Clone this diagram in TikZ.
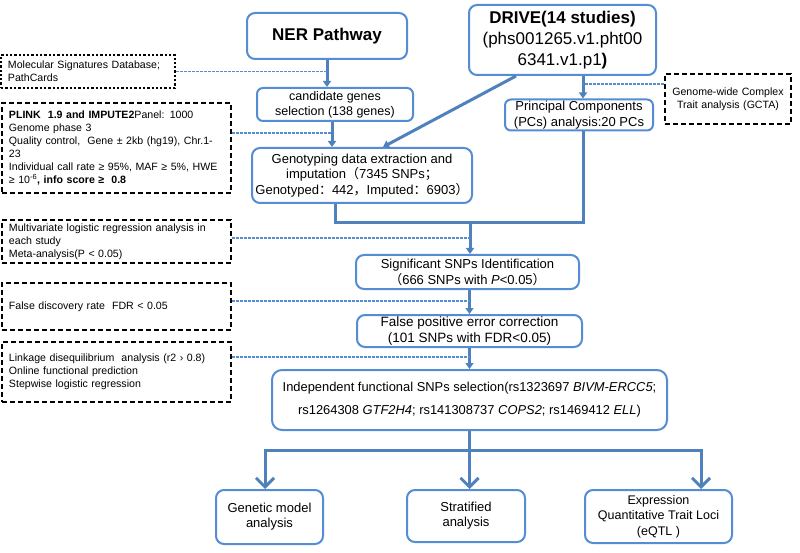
\documentclass[tikz,border=0pt]{standalone}
\usepackage{fontspec}
\setmainfont{Liberation Sans}
\newfontfamily\cjk{Noto Sans CJK SC}
\usetikzlibrary{arrows.meta,calc}
\definecolor{boxblue}{RGB}{84,141,212}
\definecolor{arrblue}{RGB}{79,129,189}
\definecolor{dotblue}{RGB}{84,141,212}
\begin{document}
\begin{tikzpicture}[x=1pt,y=-1pt,
  bbox/.style={draw=boxblue, line width=2pt, rounded corners=8pt, align=center, inner sep=0pt},
  lbox/.style={draw=black, line width=2.2pt, dash pattern=on 5pt off 3pt, align=left, inner xsep=7pt, inner ysep=0pt, font=\fontsize{10.6}{13}\selectfont},
  flow/.style={draw=arrblue, line width=3pt},
  arr/.style={flow, -{Triangle[length=6pt,width=8pt]}},
  arrb/.style={flow, -{Straight Barb[length=9pt,width=18pt]}},
  link/.style={draw=dotblue, line width=1.1pt, dash pattern=on 2.5pt off 1.5pt},
]
\useasboundingbox (0,0) rectangle (800,553);
\fill[white] (0,0) rectangle (800,553);

% main boxes
\node[bbox, minimum width=160pt, minimum height=46pt, font={\fontsize{17}{20}\selectfont\bfseries}] (ner) at (327,36) {NER Pathway};
\node[bbox, minimum width=187pt, minimum height=70pt, font={\fontsize{17}{21}\selectfont}] (drive) at (562.5,40) {\textbf{DRIVE(14 studies)}\\(phs001265.v1.pht00\\6341.v1.p1\textbf{)}};
\node[bbox, rounded corners=6pt, minimum width=156pt, minimum height=33pt, font={\fontsize{12.5}{15}\selectfont}] (cand) at (335,104.5) {candidate genes\\selection (138 genes)};
\node[bbox, minimum width=220pt, minimum height=55pt, font={\fontsize{13}{15.5}\selectfont}] (geno) at (362,175.5) {Genotyping data extraction and\\imputation{\cjk （}7345 SNPs{\cjk ；}\\Genotyped{\cjk ：}442{\cjk ，}Imputed{\cjk ：}6903{\cjk ）}};
\node[bbox, rounded corners=6pt, minimum width=148pt, minimum height=31pt, font={\fontsize{13}{16}\selectfont}] (pc) at (579,115) {Principal Components\\(PCs) analysis:20 PCs};
\node[bbox, minimum width=223pt, minimum height=34pt, font={\fontsize{13}{16}\selectfont}] (sig) at (467.5,272) {Significant SNPs Identification\\{\cjk （}666 SNPs with \textit{P}<0.05{\cjk ）}};
\node[bbox, minimum width=225pt, minimum height=32pt, font={\fontsize{13.5}{16}\selectfont}] (fpe) at (469.5,331) {False positive error correction\\(101 SNPs with FDR<0.05)};
\node[bbox, rounded corners=10pt, minimum width=395pt, minimum height=60pt, font={\fontsize{12.9}{23}\selectfont}] (indep) at (469.5,400) {Independent functional SNPs selection(rs1323697 \textit{BIVM-ERCC5};\\rs1264308 \textit{GTF2H4}; rs141308737 \textit{COPS2}; rs1469412 \textit{ELL})};
\node[bbox, minimum width=107pt, minimum height=54pt, font={\fontsize{13}{15}\selectfont}] (gen) at (269.5,517) {Genetic model\\analysis};
\node[bbox, minimum width=118pt, minimum height=52pt, font={\fontsize{13}{15}\selectfont}] (strat) at (466,516) {Stratified\\analysis};
\node[bbox, minimum width=147pt, minimum height=53pt, font={\fontsize{12.5}{15.5}\selectfont}] (eqtl) at (658.5,516.5) {Expression\\Quantitative Trait Loci\\(eQTL )};

% side boxes
\node[lbox, line width=2.3pt, dash pattern=on 2.3pt off 2pt, text width=160pt, minimum height=33pt] (msig) at (88,71.5) {Molecular Signatures Database;\\PathCards};
\node[lbox, text width=215pt, minimum height=90pt] (plink) at (116.5,148) {\textbf{PLINK\ \ 1.9 and IMPUTE2}Panel: 1000\\Genome phase 3\\Quality control,\ \ Gene ± 2kb (hg19), Chr.1-\\23\\Individual call rate ≥ 95\%, MAF ≥ 5\%, HWE\\≥ 10\textsuperscript{-6}\textbf{, info score ≥\ \ 0.8}};
\node[lbox, text width=215pt, minimum height=43pt] (multi) at (116.5,241.5) {Multivariate logistic regression analysis in\\each study\\Meta-analysis(P < 0.05)};
\node[lbox, text width=215pt, minimum height=47pt] (fdr) at (116.5,306.5) {False discovery rate\ \ FDR < 0.05};
\node[lbox, text width=215pt, minimum height=60pt] (ld) at (116.5,372) {Linkage disequilibrium\ \ analysis (r2 › 0.8)\\Online functional prediction\\Stepwise logistic regression};
\node[lbox, align=center, inner xsep=0pt, text width=126pt, minimum height=50pt] (gcta) at (728,99) {Genome-wide Complex\\Trait analysis (GCTA)};

% flow connectors
\draw[arr] (ner.south) -- (ner.south |- cand.north);
\coordinate (c2) at ([xshift=-3pt]cand.south);
\draw[arr] (c2) -- (c2 |- geno.north);
\coordinate (d1) at ([xshift=-46.5pt]drive.south);
\coordinate (g1) at ([xshift=21pt]geno.north);
\draw[arr] (d1) -- (g1);
\coordinate (d2) at ([xshift=20.5pt]drive.south);
\draw[arr] (d2) -- (d2 |- pc.north);
\coordinate (m) at (470,223);
\coordinate (p1) at ([xshift=4pt]pc.south);
\coordinate (g2) at ([xshift=-27pt]geno.south);
\draw[flow] (g2) |- (m) -| (p1);
\draw[arr] (m) -- (m |- sig.north);
\coordinate (s1) at (fpe.north |- sig.south);
\draw[arr] (s1) -- (fpe.north);
\draw[arr] (fpe.south) -- (fpe.south |- indep.north);
\coordinate (bar) at (469.5,450);
\draw[flow] (indep.south) -- (bar);
\draw[arrb] (bar) -| ([xshift=-4.5pt]gen.north);
\draw[arrb] (bar) -- (bar |- strat.north);
\draw[arrb] (bar) -| ([xshift=42.5pt]eqtl.north);

% dotted links
\draw[link] (msig.east) -- (msig.east -| ner.south);
\coordinate (p2) at ([yshift=15pt]plink.east);
\draw[link] (p2) -- (p2 -| c2);
\coordinate (mu) at ([yshift=3.5pt]multi.east);
\draw[link] (mu) -- (mu -| m);
\coordinate (fd) at ([yshift=5.5pt]fdr.east);
\draw[link] (fd) -- (fd -| s1);
\coordinate (ldc) at ([yshift=15pt]ld.east);
\draw[link] (ldc) -- (ldc -| fpe.south);
\coordinate (gc) at ([yshift=15pt]gcta.west);
\draw[link] (gc) -- (gc -| d2);
\end{tikzpicture}
\end{document}
